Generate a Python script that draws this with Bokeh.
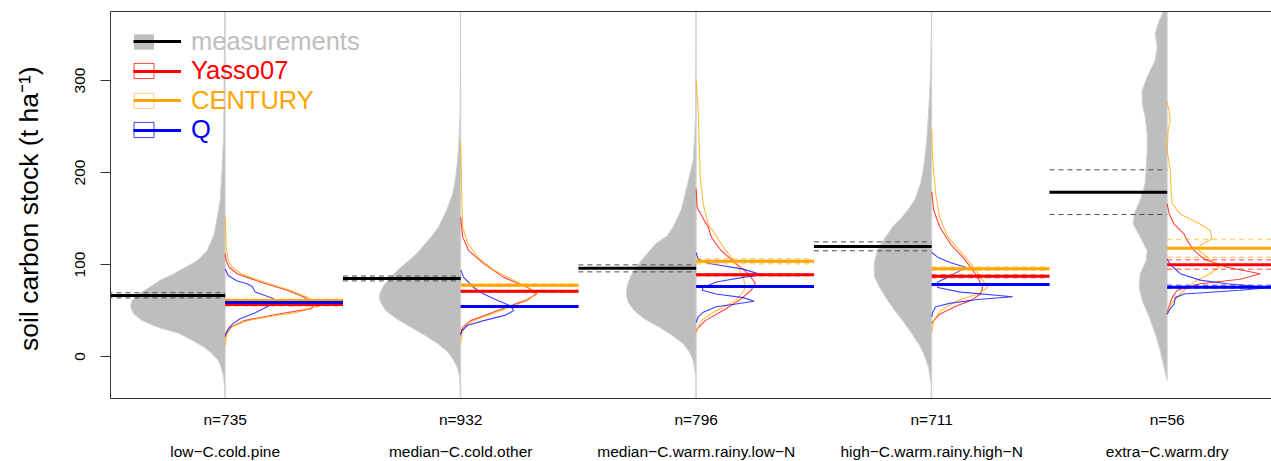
from bokeh.plotting import figure
from bokeh.models import FixedTicker, LinearAxis, Legend, LegendItem, Range1d
from bokeh.embed import file_html
from bokeh.resources import INLINE

FONT = "Liberation Sans"

# ---------------- data ----------------
group_names = ["low\u2212C.cold.pine", "median\u2212C.cold.other",
               "median\u2212C.warm.rainy.low\u2212N", "high\u2212C.warm.rainy.high\u2212N",
               "extra\u2212C.warm.dry"]
n_obs = [735, 932, 796, 711, 56]

meas_mean = [66.3, 84.8, 96.0, 119.6, 178.6]
meas_lo = [63.7, 82.2, 92.0, 114.9, 154.3]
meas_hi = [69.3, 87.5, 99.6, 124.6, 202.9]

model_names = ["Yasso07", "CENTURY", "Q"]
yasso_mean = [56.5, 70.8, 88.8, 87.3, 99.6]
yasso_lo = [55.3, 70.0, 87.8, 85.7, 94.9]
yasso_hi = [57.7, 71.6, 89.8, 88.9, 105.1]
century_mean = [60.9, 77.5, 103.6, 95.5, 117.8]
century_lo = [59.5, 76.3, 100.7, 93.8, 108.0]
century_hi = [62.3, 78.9, 106.2, 97.2, 127.2]
q_mean = [58.7, 54.3, 76.1, 78.3, 75.4]
q_lo = [58.0, 53.9, 75.6, 77.8, 74.4]
q_hi = [59.4, 54.7, 76.6, 78.8, 77.5]

# densities as (soil carbon, density) pairs
meas_density = [
    [(375, 0.5), (242, 1.5), (206, 3), (170, 5), (151, 8), (133, 11), (115, 18), (104, 28), (97, 40),
     (90, 51), (83, 65), (75, 76), (68, 86), (61, 93), (54, 95), (46, 91), (39, 83), (32, 68), (25, 46),
     (17, 32), (10, 21), (3, 13), (-4, 7), (-12, 4), (-22, 1.5), (-37, 0.5), (-46, 0.3)],
    [(376, 0.3), (267, 0.5), (231, 2), (213, 3), (195, 5), (177, 8), (159, 14), (141, 22), (132, 28),
     (123, 35), (113, 43), (104, 52), (95, 62), (86, 70), (77, 77), (68, 81), (61, 81), (50, 75), (41, 64),
     (32, 50), (23, 36), (14, 23), (5, 13), (-4, 7), (-13, 3), (-22, 1), (-46, 0.3)],
    [(376, 0.3), (267, 0.5), (231, 2), (213, 3), (195, 7), (177, 11), (159, 15), (141, 23), (131, 29),
     (123, 40), (113, 48), (104, 55), (95, 61), (86, 66), (77, 69), (68, 70), (59, 68), (50, 62), (41, 52),
     (32, 37), (23, 24), (14, 13), (5, 7), (-4, 3), (-22, 0.3), (-46, 0.2)],
    [(376, 0.3), (340, 0.5), (304, 1.3), (267, 3), (242, 4.5), (224, 6), (206, 8), (188, 11), (170, 17),
     (159, 24), (151, 30), (141, 39), (133, 44), (122, 51), (115, 54), (104, 57), (95, 57.5), (86, 57),
     (75, 52), (61, 44), (50, 37), (39, 29), (25, 20), (12, 12), (3, 8), (-12, 3), (-30, 0.5), (-46, 0.3)],
    [(376, 3.3), (365, 8), (351, 12), (336, 10), (322, 12), (304, 20), (289, 25), (275, 25), (260, 22),
     (242, 20), (224, 20), (206, 21), (188, 22), (170, 27), (155, 33), (144, 34), (130, 27), (115, 20),
     (104, 21), (90, 27), (75, 28), (61, 25), (43, 18), (25, 12), (6.5, 7), (-12, 3), (-26, 0)],
]
yasso_density = [
    [(112, 0), (104, 1), (97, 4), (90, 12), (86, 22), (80, 38), (72, 62), (65, 78), (57, 89), (52, 86),
     (46, 52), (39, 19), (32, 6), (25, 1), (21, 0)],
    [(151, 0), (130, 2), (115, 8), (101, 23), (86, 43), (75, 67), (68, 76), (61, 65), (54, 47), (46, 27),
     (39, 10), (32, 2), (25, 0)],
    [(182, 0), (162, 1), (148, 8), (141, 12), (130, 15), (115, 25), (101, 40), (90, 52), (80, 59), (72, 55),
     (61, 43), (50, 27), (39, 9), (30, 1), (27, 0)],
    [(179, 0), (159, 2), (141, 8), (122, 19), (108, 31), (97, 39), (86, 46), (75, 51), (68, 49), (61, 39),
     (54, 23), (46, 8), (39, 2), (36, 0)],
    [(166, 0), (155, 2), (144, 7), (133, 17), (126, 20), (115, 27), (106, 37), (97, 60), (90, 93), (84, 73),
     (79, 33), (72, 10), (64, 5), (55, 2), (48, 0)],
]
century_density = [
    [(151, 0), (120, 1), (104, 3), (97, 7), (90, 16), (86, 25), (80, 42), (72, 65), (64, 83), (55, 94),
     (48, 72), (43, 42), (39, 22), (32, 6), (25, 2), (21, 1), (12, 0)],
    [(233, 0), (177, 1), (141, 2), (123, 7), (108, 17), (94, 33), (83, 53), (75, 67), (68, 75), (61, 67),
     (54, 50), (46, 30), (39, 13), (32, 4), (23, 1), (14, 0)],
    [(300, 0), (267, 2), (231, 3), (195, 4), (166, 7), (144, 12), (126, 23), (115, 30), (101, 40), (86, 47),
     (77, 49), (72, 48), (61, 40), (50, 20), (39, 5), (30, 1), (26, 0)],
    [(246, 0), (213, 1), (177, 4), (151, 8), (130, 16), (115, 28), (101, 39), (86, 49), (75, 56), (68, 46),
     (61, 26), (50, 9), (39, 2), (26, 0)],
    [(276, 0), (267, 2), (256, 3), (246, 1), (224, 0), (202, 3), (180, 4), (166, 5), (155, 13), (144, 33),
     (137, 43), (128, 45), (121, 33), (115, 32), (108, 40), (97, 52), (90, 43), (83, 30), (72, 17), (61, 7),
     (54, 2), (46, 0)],
]
q_density = [
    [(95, 0), (88, 3), (82, 12), (79, 22), (76, 27), (70, 30), (63, 48), (59, 51), (53, 40), (47, 29),
     (41, 15), (36, 8), (30, 3), (23, 0)],
    [(94, 0), (86, 3), (75, 13), (68, 23), (61, 37), (55, 50), (50, 53), (45, 45), (39, 23), (34, 7),
     (28, 1), (23, 0)],
    [(113, 0), (106, 2), (101, 13), (95, 47), (89, 65), (86, 47), (81, 20), (75, 7), (72, 6), (68, 20),
     (64, 47), (60, 58), (57, 40), (54, 20), (48, 7), (43, 2), (37, 0)],
    [(113, 0), (108, 6), (102, 19), (97, 34), (92, 26), (86, 16), (81, 6), (75, 6), (70, 29), (65, 81),
     (62, 46), (58, 19), (54, 4), (48, 1), (43, 0)],
    [(106, 0), (100, 3), (90, 13), (83, 33), (79, 60), (75, 104), (72, 73), (68, 17), (64, 8), (57, 7),
     (52, 3), (46, 0)],
]

# ---------------- styles / layout ----------------
GREY = "#BEBEBE"
BOX = "#333333"
model_colors = ["#FF0000", "#FFA500", "#0000FF"]
DENS_SCALE = 1.0 / 235.5      # density units -> x units
HALF = 0.5                    # length of mean lines
FRAME_H = 387
FRAME_TOP = 11

centers = list(range(1, len(group_names) + 1))

p = figure(frame_width=1161, frame_height=FRAME_H,
           x_range=Range1d(0.513, 5.443), y_range=Range1d(-45.65, 375.0),
           output_backend="svg", toolbar_location=None,
           min_border_left=110, min_border_right=0, min_border_top=FRAME_TOP, min_border_bottom=62,
           background_fill_color="white", border_fill_color="white")
p.xgrid.visible = False
p.ygrid.visible = False
p.outline_line_color = None   # box drawn by the axes (open on the right, as in the original)

# measurement densities (left halves)
vxs, vys = [], []
for c, dens in zip(centers, meas_density):
    ys = [d[0] for d in dens]
    xs = [c - d[1] * DENS_SCALE for d in dens]
    vxs.append(xs + [c, c])
    vys.append(ys + [ys[-1], ys[0]])
p.patches(vxs, vys, fill_color=GREY, line_color="#D2D2D2", line_width=1)

# model densities (right halves)
for dens_list, col in zip([yasso_density, century_density, q_density], model_colors):
    mxs, mys = [], []
    for c, dens in zip(centers, dens_list):
        mys.append([d[0] for d in dens])
        mxs.append([c + d[1] * DENS_SCALE for d in dens])
    p.multi_line(mxs, mys, line_color=col, line_alpha=0.75, line_width=1.1)

# measurement mean & CI
left = [c - HALF for c in centers]
p.segment(x0=left, x1=centers, y0=meas_lo, y1=meas_lo, line_color="#4D4D4D", line_width=1, line_dash="5 4")
p.segment(x0=left, x1=centers, y0=meas_hi, y1=meas_hi, line_color="#4D4D4D", line_width=1, line_dash="5 4")
meas_r = p.segment(x0=left, x1=centers, y0=meas_mean, y1=meas_mean, line_color="black", line_width=3)

# model means & CI
right = [c + HALF for c in centers]
model_r = []
for mean, lo, hi, col in zip([yasso_mean, century_mean, q_mean], [yasso_lo, century_lo, q_lo],
                             [yasso_hi, century_hi, q_hi], model_colors):
    p.segment(x0=centers, x1=right, y0=lo, y1=lo, line_color=col, line_alpha=0.5, line_width=1.5, line_dash="5 4")
    p.segment(x0=centers, x1=right, y0=hi, y1=hi, line_color=col, line_alpha=0.5, line_width=1.5, line_dash="5 4")
    model_r.append(p.segment(x0=centers, x1=right, y0=mean, y1=mean, line_color=col, line_width=3))

# ---------------- axes ----------------
yax = p.yaxis[0]
yax.ticker = FixedTicker(ticks=[0, 100, 200, 300])
yax.major_label_orientation = "vertical"
yax.major_tick_in = 0
yax.major_tick_out = 10
yax.minor_tick_line_color = None
yax.axis_line_color = BOX
yax.major_tick_line_color = BOX
yax.major_label_text_font = FONT
yax.major_label_text_font_size = "15.5px"
yax.major_label_text_color = "black"
yax.major_label_standoff = 15
yax.axis_label = "soil carbon stock  (t ha\u207b\u00b9)"
yax.axis_label_text_font = FONT
yax.axis_label_text_font_size = "26.5px"
yax.axis_label_text_font_style = "normal"
yax.axis_label_text_color = "black"
yax.axis_label_standoff = 29

xax = p.xaxis[0]
xax.ticker = FixedTicker(ticks=centers)
xax.major_label_overrides = {c: f"n={n}" for c, n in zip(centers, n_obs)}
xax2 = LinearAxis(ticker=FixedTicker(ticks=centers),
                  major_label_overrides={c: g for c, g in zip(centers, group_names)})
p.add_layout(xax2, "below")
for ax, standoff in ((xax, 12), (xax2, 12)):
    ax.axis_line_color = None
    ax.major_tick_line_color = None
    ax.minor_tick_line_color = None
    ax.major_tick_in = 0
    ax.major_tick_out = 0
    ax.major_label_text_font = FONT
    ax.major_label_text_font_size = "15.5px"
    ax.major_label_text_color = "black"
    ax.major_label_standoff = standoff
xax.axis_line_color = BOX

top_ax = LinearAxis(ticker=FixedTicker(ticks=[]), axis_line_color=BOX,
                    major_tick_line_color=None, minor_tick_line_color=None,
                    major_tick_in=0, major_tick_out=0, major_label_standoff=0,
                    major_label_text_font_size="0px")
p.add_layout(top_ax, "above")

# ---------------- legend ----------------
NAN = float("nan")
sq_meas = p.quad(left=[NAN], right=[NAN], top=[NAN], bottom=[NAN], fill_color=GREY, line_color=None)
sq_models = [p.quad(left=[NAN], right=[NAN], top=[NAN], bottom=[NAN], fill_color=None, line_color=col,
                    line_alpha=a, line_width=1)
             for col, a in zip(model_colors, [0.75, 0.5, 0.75])]

rows = [("measurements", GREY, meas_r, sq_meas)] + \
       [(name, col, r, s) for name, col, r, s in zip(model_names, model_colors, model_r, sq_models)]
row_centers = [41, 70.5, 100, 129.5]   # pixel rows of the legend entries

for (label, col, line_r, sq_r), yc in zip(rows, row_centers):
    yf = yc - FRAME_TOP
    sq_leg = Legend(items=[LegendItem(label="\u00a0", renderers=[sq_r])],
                    location=(20.5, FRAME_H - yf - 9.5),
                    glyph_width=25, glyph_height=19, label_height=19, label_width=1,
                    label_text_font_size="6px", padding=0, margin=0, spacing=0,
                    border_line_color=None, background_fill_alpha=0)
    p.add_layout(sq_leg)
for (label, col, line_r, sq_r), yc in zip(rows, row_centers):
    yf = yc - FRAME_TOP
    leg = Legend(items=[LegendItem(label=label, renderers=[line_r])],
                 location=(23, FRAME_H - yf - 15),
                 glyph_width=48, glyph_height=30, label_height=30, label_standoff=10,
                 label_text_font=FONT, label_text_font_size="25.5px", label_text_color=col,
                 padding=0, margin=0, spacing=0,
                 border_line_color=None, background_fill_alpha=0)
    p.add_layout(leg)

open("out.html", "w").write(file_html(p, INLINE))
